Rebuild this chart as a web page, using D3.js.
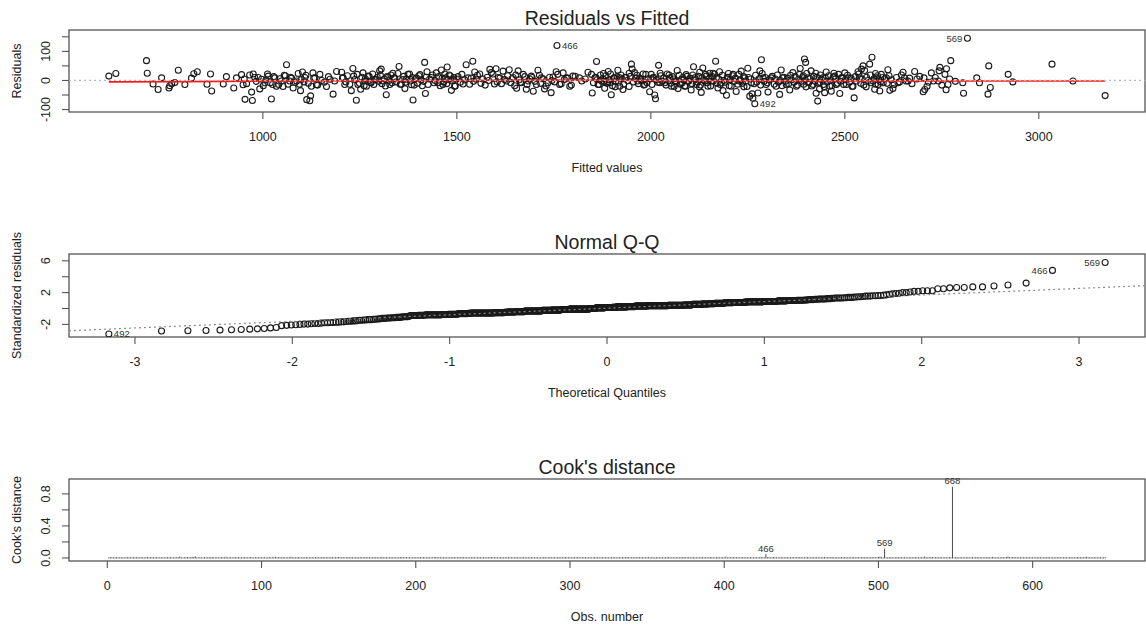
<!DOCTYPE html>
<html>
<head>
<meta charset="utf-8">
<script src="https://cdn.jsdelivr.net/npm/d3@7"></script>
<style>
  body { margin: 0; background: #fff; }
  svg text { font-family: "Liberation Sans", Arial, Helvetica, sans-serif; fill: #222; }
</style>
</head>
<body>
<div id="chart"></div>
<script>
// ---- values ----

// [fitted, residual] for every observation except the labelled ones
const residPoints = [
  [603,15],[621,24],[700,68],[702,25],[717,-12],[730,-31],[739,9],[758,-26],[760,-18],[765,-11],
  [773,-7],[782,35],[799,-14],[816,8],[822,23],[831,30],[856,-13],[865,22],[868,-36],[898,-12],
  [906,13],[925,-26],[932,9],[945,20],[949,-15],[954,-65],[971,-40],[973,-69],[975,22],[979,10],
  [992,-29],[997,4],[1005,-8],[1014,15],[1022,-64],[1025,-14],[1031,9],[1035,-20],[1048,-2],[1055,18],
  [1061,54],[1065,-13],[1074,8],[1078,-26],[1087,-2],[1097,-35],[1102,29],[1108,10],[1113,-66],[1121,-70],
  [1123,-53],[1125,-20],[1129,26],[1134,9],[1138,-15],[1164,-21],[1173,4],[1181,-47],[1190,31],
  [1203,28],[1207,9],[1211,-14],[1228,-35],[1232,41],[1234,15],[1241,-68],[1245,-14],[1252,-30],[1258,26],
  [1262,-2],[1267,-20],[1271,15],[1279,-8],[1292,4],[1301,33],[1305,39],[1310,-2],[1318,-49],[1322,10],
  [1327,-14],[1335,25],[1340,8],[1351,48],[1357,-13],[1366,-28],[1370,4],[1378,22],[1383,-15],[1387,-67],
  [1396,9],[1405,20],[1411,-18],[1417,62],[1419,-45],[1423,30],[1434,10],[1447,26],[1451,-8],[1460,36],
  [1464,-14],[1471,9],[1475,46],[1480,19],[1486,-34],[1490,4],[1494,-20],[1516,-12],[1524,54],[1529,9],
  [1541,66],[1546,29],[1550,4],[1559,22],[1585,38],[1589,27],[1597,-12],[1601,40],[1611,8],[1619,32],
  [1628,-2],[1635,37],[1645,10],[1654,-27],[1658,33],[1666,-8],[1671,21],[1679,-30],[1684,-2],[1692,15],
  [1697,-37],[1705,-14],[1709,35],[1718,9],[1726,-29],[1735,-8],[1743,-42],[1748,12],[1756,30],[1765,-14],
  [1774,26],[1782,9],[1791,-20],[1799,15],[1816,9],[1838,28],
  [1847,21],[1849,-43],[1856,9],[1860,65],[1864,-14],[1873,-2],[1881,-27],[1890,31],[1894,-8],[1898,-49],
  [1907,9],[1915,35],[1920,-20],[1928,-31],[1933,10],[1950,56],[1952,39],[1958,27],[1971,8],[1980,22],
  [1984,-14],[1997,-39],[2001,21],[2005,9],[2010,-50],[2012,-63],[2020,52],[2023,-8],[2036,-8],[2049,9],
  [2053,-20],[2062,-2],[2068,34],[2070,-28],[2079,4],[2087,-20],[2091,20],[2096,-2],[2104,-33],[2110,47],
  [2113,9],[2117,-14],[2126,28],[2130,-41],[2134,43],[2139,-2],[2143,15],[2147,-20],[2152,25],[2156,-2],
  [2167,66],[2169,9],[2173,-26],[2177,30],[2182,-8],[2186,-35],[2195,-51],[2199,9],[2207,-20],[2212,21],
  [2220,-38],[2229,-2],[2233,32],[2242,9],[2250,42],[2255,-54],[2259,-8],[2261,-46],[2263,-61],[2276,-43],
  [2281,33],[2285,71],[2289,9],[2297,-14],[2302,-40],[2310,9],[2323,-20],[2332,-48],[2336,36],[2340,9],
  [2349,-14],[2358,-33],[2366,27],[2375,-20],[2385,41],[2396,74],[2399,62],[2405,9],[2413,33],[2418,-14],
  [2426,-44],[2430,-71],[2435,-29],[2443,9],[2448,-42],[2452,29],[2461,-20],[2465,-37],[2474,15],[2478,-14],
  [2487,-45],[2491,9],[2500,26],[2504,-14],
  [2509,9],[2521,-20],[2524,-60],[2534,30],[2538,9],[2543,39],[2547,50],[2551,34],[2564,56],[2570,80],
  [2573,-2],[2577,-30],[2582,9],[2586,-14],[2590,-36],[2594,21],[2599,-8],[2607,9],[2611,37],[2616,-34],
  [2624,-28],[2637,-8],[2650,28],[2654,9],[2663,-2],[2680,31],[2702,-39],[2706,-31],[2704,9],[2712,-20],
  [2723,26],[2728,-2],[2741,-2],[2743,33],[2745,45],[2758,21],[2761,-32],[2762,40],[2766,-14],[2773,68],
  [2804,-8],[2806,-44],[2840,9],[2847,-8],[2871,50],[2875,-24],[2869,-47],[2921,21],[2933,-5],[3034,56],
  [3088,-2],[3171,-52],
  // points hidden inside the dense band around zero
  [952,5],[958,-11],[966,19],[983,-3],[988,10],[1001,-18],[1008,2],[1012,22],[1019,-8],[1028,13],
  [1041,-14],[1044,6],[1052,-21],[1058,16],[1069,-2],[1071,11],[1083,-6],[1091,24],[1094,-13],[1099,3],
  [1106,-5],[1111,18],[1117,-10],[1131,8],[1141,-16],[1147,21],[1152,0],[1158,-6],[1169,13],[1185,-2],
  [1205,8],[1214,-5],[1218,16],[1224,-13],[1237,3],[1243,21],[1249,-10],[1255,11],[1261,-18],[1264,6],
  [1270,-2],[1274,14],[1277,-6],[1283,22],[1286,-14],[1289,2],[1295,10],[1298,-3],[1303,18],[1307,-11],
  [1313,5],[1316,-19],[1320,13],[1325,0],[1330,19],[1333,-8],[1338,8],[1344,-5],[1348,24],[1354,-13],
  [1360,3],[1363,14],[1368,-6],[1374,21],[1380,-2],[1385,10],[1390,-16],[1393,6],[1399,-10],[1402,16],
  [1408,2],[1414,-3],[1421,11],[1426,-14],[1430,5],[1437,19],[1441,-8],[1444,0],[1453,13],[1457,-18],
  [1462,8],[1466,-5],[1469,22],[1474,-11],[1478,3],[1483,16],[1488,-2],[1492,10],[1496,-19],[1499,5],
  [1503,13],[1509,-6],[1513,21],[1520,2],[1533,-13],[1537,8],[1543,-3],[1553,18],[1562,-10],[1567,5],
  [1573,-16],[1578,11],[1582,0],[1593,22],[1604,-5],[1607,10],[1615,-11],[1623,3],[1631,16],[1639,-8],
  [1642,6],[1649,-18],[1652,19],[1661,2],[1664,-6],[1675,13],[1681,-14],[1688,5],[1694,10],[1701,-3],
  [1713,18],[1716,-10],[1722,6],[1730,-19],[1739,11],[1745,0],[1752,-5],[1760,21],[1769,-11],[1777,3],
  [1786,8],[1795,-16],[1805,14],[1822,-2],[1831,5],
  [1852,-8],[1858,11],[1862,3],[1867,-14],[1870,19],[1876,6],[1879,-3],[1884,16],[1887,-10],[1892,2],
  [1896,22],[1901,-18],[1904,8],[1910,-2],[1913,13],[1917,-6],[1923,19],[1926,5],[1930,-13],[1936,10],
  [1940,0],[1944,-21],[1947,14],[1955,-5],[1961,8],[1964,18],[1968,-11],[1974,3],[1977,-2],[1987,21],
  [1990,-8],[1993,6],[2003,-14],[2007,11],[2015,2],[2018,-6],[2026,16],[2030,-3],[2033,8],[2039,-16],
  [2042,22],[2045,0],[2051,-10],[2056,13],[2059,5],[2065,-5],[2073,18],[2076,-13],[2082,10],[2085,2],
  [2089,-19],[2093,14],[2098,-2],[2000,6],[1982,-16],[1944,25],[1908,-22],[1878,24],[2060,-21],[2024,25],
  [1966,-2],[1919,10],[1889,-5],[2047,19],[2081,-8],
  [2101,8],[2106,-11],[2108,19],[2115,3],[2120,-5],[2123,14],[2128,-16],[2132,10],[2136,2],[2141,21],
  [2145,-8],[2149,5],[2154,-19],[2158,13],[2161,-2],[2164,22],[2171,-10],[2175,6],[2179,-14],[2184,18],
  [2188,0],[2191,-6],[2197,11],[2202,-18],[2205,3],[2210,16],[2215,-3],[2218,8],[2224,-13],[2227,21],
  [2231,2],[2236,-10],[2239,13],[2245,-2],[2248,-21],[2252,10],[2257,5],[2266,-11],[2270,18],[2273,-5],
  [2279,6],[2283,-16],[2287,24],[2292,-3],[2295,10],[2300,-8],[2305,2],[2313,14],[2318,-13],[2321,5],
  [2326,19],[2329,-6],[2334,0],[2338,-18],[2343,11],[2347,-3],[2125,-22],[2160,25],[2200,24],[2240,-22],
  [2352,8],[2355,-11],[2360,18],[2363,2],[2369,-6],[2372,13],[2378,-16],[2381,5],[2383,21],[2388,-3],
  [2391,10],[2394,-13],[2398,2],[2402,24],[2407,-8],[2410,6],[2415,-19],[2420,14],[2423,-2],[2428,11],
  [2432,-10],[2437,19],[2440,3],[2445,-14],[2450,8],[2455,-5],[2458,16],[2463,0],[2467,-18],[2470,11],
  [2476,5],[2481,-10],[2484,21],[2489,-3],[2493,10],[2497,-14],[2502,3],[2507,18],[2512,-6],[2516,8],
  [2519,-21],[2527,13],[2530,-2],[2536,22],[2541,-10],[2545,5],[2549,-16],[2556,11],[2560,0],[2566,19],
  [2568,-8],[2575,6],[2579,-13],[2584,16],[2588,2],[2592,-5],[2597,10],[2400,-22],[2425,25],[2447,-22],
  [2472,25],[2393,16],[2436,-6],[2579,24],[2555,-22],
  [2603,6],[2609,-10],[2614,16],[2620,2],[2627,-14],[2633,10],[2641,-5],[2646,19],[2658,-2],[2667,8],
  [2673,-11],[2686,5],[2693,14],[2715,-6],[2733,10],[2750,-16],[2770,5],[2785,-3]
]

// labelled observations: [row name, fitted, residual]
const labelledPoints = [["466", 1758, 120], ["569", 2816, 145], ["492", 2268, -80]]

// red smoother drawn through the residuals
const smoothFitted = [603, 800, 1000, 1250, 1500, 1750, 2000, 2250, 2500, 2750, 3000, 3171]
const smoothResid = [-5, -4, -2, -1, 0, 1, 0, -1, -2, -2, -2, -2]

// residual standard error used for the standardized residuals
const residSE = 25

// Cook's distance per observation, in thousandths (observation order)
const cookBase = [
  2,1,3,1,2,4,1,2,3,1,2,1,5,2,1,3,2,1,4,2,
  1,3,2,1,2,6,1,2,3,1,2,4,1,1,3,2,1,2,5,1,
  3,2,1,2,4,3,12,2,1,3,2,5,2,1,9,3,14,2,1,3,
  2,1,4,2,1,3,2,6,1,2,3,1,2,4,3,2,8,1,2,3,
  1,2,5,1,3,2,1,4,2,3,1,2,6,1,2,3,1,2,4,1,
  2,3,1,2,5,1,3,2,7,1,2,3,1,4,2,1,3,2,8,1,
  3,1,2,4,1,2,3,1,5,2,1,3,2,1,4,2,3,1,2,5,
  1,2,3,1,4,2,1,3,2,6,1,2,3,1,2,4,1,3,2,1,
  2,4,1,3,2,1,5,2,3,1,2,1,4,2,3,1,2,6,1,2,
  3,1,2,4,1,2,3,1,2,5,3,1,2,4,1,3,2,1,2,3,
  1,2,5,1,3,2,1,4,2,1,3,2,6,1,2,3,1,2,4,2,
  2,1,3,2,4,1,2,3,1,5,2,1,3,2,1,4,2,3,1,2,
  3,2,1,4,2,1,3,2,5,1,2,3,1,2,4,1,3,2,1,6,
  1,3,2,1,4,2,3,1,2,5,1,2,3,1,4,2,1,3,2,1,
  2,1,4,3,1,2,5,1,3,2,1,2,4,1,3,2,6,1,2,3,
  1,2,3,1,5,2,1,3,2,4,1,2,3,1,2,5,1,3,2,1,
  4,2,1,3,2,1,5,2,3,1,2,4,1,2,3,1,6,2,1,3,
  2,1,3,2,4,1,2,3,1,2,5,1,3,2,1,4,2,1,3,2,
  1,3,2,5,1,2,3,1,4,2,1,3,2,6,1,2,3,1,2,4,
  2,1,3,1,2,4,1,3,2,1,5,2,1,3,2,4,1,2,3,1,
  9,2,1,3,2,4,1,2,3,1,2,5,1,3,2,1,4,2,1,3,
  2,1,3,5,2,1,4,2,3,1,2,6,1,3,2,1,4,2,1,3,
  2,3,1,4,2,1,3,2,5,1,2,3,1,4,2,1,3,2,1,4,
  1,2,3,1,5,2,1,3,2,4,1,2,3,1,2,5,1,3,2,1,
  3,1,2,4,1,2,3,1,2,5,1,3,2,1,4,2,3,1,2,6,
  10,2,1,3,2,1,4,2,3,1,2,5,1,3,2,1,4,2,1,3,
  2,1,3,2,4,1,2,3,1,12,2,1,3,2,5,1,2,3,1,4,
  2,1,3,2,1,5,2,3,1,2,4,1,3,2,1,3,2,4,1,2,
  3,1,2,5,1,3,2,1,4,2,3,1,2,6,1,2,3,1,2,4,
  1,2,3,11,2,1,4,2,3,1,2,5,1,3,2,1,4,2,1,3,
  2,1,3,2,4,1,2,3,1,5,2,1,3,2,1,4,2,3,1,2,
  3,2,1,4,2,1,3,2,5,1,2,3,1,4,9,1,3,2,1,4,
  2,1,3,2,1,2,3
]
// the three largest distances: [obs number, distance, row name]
const cookPeaks = [[427, 0.040, "466"], [504, 0.110, "569"], [548, 0.882, "668"]]

// tick values and labels
const fitTicks = [1000, 1500, 2000, 2500, 3000]
const residTicks = [-100, -50, 0, 50, 100, 150]
const residTickLabels = [-100, 0, 100]
const qqXTicks = [-3, -2, -1, 0, 1, 2, 3]
const qqYTicks = [-2, 0, 2, 4, 6]
const qqYTickLabels = [-2, 2, 6]
const obsTicks = [0, 100, 200, 300, 400, 500, 600]
const cookTicks = [0, 0.2, 0.4, 0.6, 0.8]
const cookTickLabels = [0, 0.4, 0.8]

// ---- layout ----
const W = 1146, H = 626
const left = 69, right = 1145
const midX = (left + right) / 2

// R pads axis ranges by 4% on each side
function extendRange(lo, hi, f) {
    let d = (hi - lo) * f
    return [lo - d, hi + d]
}

// inverse normal cdf (Acklam)
function qnorm(p) {
    const a = [-3.969683028665376e+01, 2.209460984245205e+02, -2.759285104469687e+02, 1.383577518672690e+02, -3.066479806614716e+01, 2.506628277459239e+00]
    const b = [-5.447609879822406e+01, 1.615858368580409e+02, -1.556989798598866e+02, 6.680131188771972e+01, -1.328068155288572e+01]
    const c = [-7.784894002430293e-03, -3.223964580411365e-01, -2.400758277161838e+00, -2.549732539343734e+00, 4.374664141464968e+00, 2.938163982698783e+00]
    const d = [7.784695709041462e-03, 3.224671290700398e-01, 2.445134137142996e+00, 3.754408661907416e+00]
    const plow = 0.02425
    let q, r
    if (p < plow || p > 1 - plow) {
        q = Math.sqrt(-2 * Math.log(p < plow ? p : 1 - p))
        let v = (((((c[0]*q+c[1])*q+c[2])*q+c[3])*q+c[4])*q+c[5]) / ((((d[0]*q+d[1])*q+d[2])*q+d[3])*q+1)
        return p < plow ? v : -v
    }
    q = p - 0.5
    r = q * q
    return (((((a[0]*r+a[1])*r+a[2])*r+a[3])*r+a[4])*r+a[5])*q / (((((b[0]*r+b[1])*r+b[2])*r+b[3])*r+b[4])*r+1)
}

const svg = d3.select("#chart").append("svg")
    .attr("width", W)
    .attr("height", H)

// frame, ticks and titles for one panel
function drawFrame(p) {
    let g = svg.append("g")

    g.selectAll(".xtick").data(p.xTicks).enter().append("line")
        .attr("x1", d => p.x(d)).attr("x2", d => p.x(d))
        .attr("y1", p.bottom).attr("y2", p.bottom + 7)
        .attr("stroke", "#555").attr("stroke-width", 1.1)
    g.selectAll(".xlab").data(p.xTicks).enter().append("text")
        .attr("x", d => p.x(d)).attr("y", p.bottom + 29)
        .attr("text-anchor", "middle")
        .style("font-size", "12.5px")
        .text(d => String(d))

    g.selectAll(".ytick").data(p.yTicks).enter().append("line")
        .attr("x1", left - 7).attr("x2", left)
        .attr("y1", d => p.y(d)).attr("y2", d => p.y(d))
        .attr("stroke", "#555").attr("stroke-width", 1.1)
    g.selectAll(".ylab").data(p.yLabels).enter().append("text")
        .attr("transform", d => `translate(${left - 19},${p.y(d)}) rotate(-90)`)
        .attr("text-anchor", "middle")
        .style("font-size", "12.5px")
        .text(p.yFormat)

    g.append("rect")
        .attr("x", left).attr("y", p.top)
        .attr("width", right - left).attr("height", p.bottom - p.top)
        .attr("fill", "none").attr("stroke", "#555").attr("stroke-width", 1.3)

    g.append("text")
        .attr("x", midX).attr("y", p.top - 5)
        .attr("text-anchor", "middle")
        .style("font-size", "19.5px")
        .text(p.title)
    g.append("text")
        .attr("x", midX).attr("y", p.bottom + 60)
        .attr("text-anchor", "middle")
        .style("font-size", "12.5px")
        .text(p.xLabel)
    g.append("text")
        .attr("transform", `translate(21,${(p.top + p.bottom) / 2}) rotate(-90)`)
        .attr("text-anchor", "middle")
        .style("font-size", "12.5px")
        .text(p.yLabel)

    // marks are clipped to the plot box, as in R
    let clipId = "clip" + p.top
    svg.append("clipPath").attr("id", clipId)
        .append("rect")
        .attr("x", left).attr("y", p.top)
        .attr("width", right - left).attr("height", p.bottom - p.top)
    return svg.append("g").attr("clip-path", `url(#${clipId})`)
}

// text.id rule: label right of a point left of the middle, else left of it
function labelSide(xs) {
    let mid = (d3.min(xs) + d3.max(xs)) / 2
    return x => x > mid ? "left" : "right"
}

function drawLabels(g, pts, x, y) {
    let side = labelSide(pts.map(d => x(d.px)))
    g.selectAll(".idlab").data(pts).enter().append("text")
        .attr("x", d => x(d.px) + (side(x(d.px)) === "left" ? -5 : 5))
        .attr("y", d => y(d.py))
        .attr("dy", "0.35em")
        .attr("text-anchor", d => side(x(d.px)) === "left" ? "end" : "start")
        .style("font-size", "9.5px")
        .style("fill", "#333")
        .text(d => d.id)
}

// ---- data wrangling ----
const allPts = residPoints.map(p => ({f: p[0], r: p[1], id: null}))
    .concat(labelledPoints.map(p => ({f: p[1], r: p[2], id: p[0]})))
const n = allPts.length

// ---- panel 1: residuals vs fitted ----
{
    let top = 30, bottom = 112
    let rRange = extendRange(d3.min(allPts, d => d.r), d3.max(allPts, d => d.r), 0.08)
    let x = d3.scaleLinear().domain(extendRange(...d3.extent(allPts, d => d.f), 0.04)).range([left, right])
    let y = d3.scaleLinear().domain(extendRange(rRange[0], rRange[1], 0.04)).range([bottom, top])

    let g = drawFrame({top, bottom, x, y, xTicks: fitTicks, yTicks: residTicks, yLabels: residTickLabels,
        yFormat: d => String(d), title: "Residuals vs Fitted", xLabel: "Fitted values", yLabel: "Residuals"})

    g.selectAll("circle").data(allPts).enter().append("circle")
        .attr("cx", d => x(d.f)).attr("cy", d => y(d.r)).attr("r", 3)
        .attr("fill", "none").attr("stroke", "#1a1a1a").attr("stroke-width", 1.1)

    g.append("path")
        .datum(d3.zip(smoothFitted, smoothResid))
        .attr("d", d3.line().x(d => x(d[0])).y(d => y(d[1])))
        .attr("fill", "none").attr("stroke", "#ff1a1a").attr("stroke-width", 1.6)

    g.append("line")
        .attr("x1", left).attr("x2", right)
        .attr("y1", y(0)).attr("y2", y(0))
        .attr("stroke", "#b8b8b8").attr("stroke-width", 1.2).attr("stroke-dasharray", "2,3")

    drawLabels(svg, allPts.filter(d => d.id).map(d => ({id: d.id, px: d.f, py: d.r})), x, y)
}

// ---- panel 2: normal Q-Q ----
{
    let top = 254, bottom = 337
    let qq = allPts.map(d => ({id: d.id, s: d.r / residSE})).sort((a, b) => a.s - b.s)
    qq.forEach((d, i) => { d.q = qnorm((i + 0.5) / n) })

    let sMin = qq[0].s, sMax = qq[n - 1].s
    let yLim = [sMin, sMax + (sMax - sMin) * 0.075]
    let x = d3.scaleLinear().domain(extendRange(qq[0].q, qq[n - 1].q, 0.04)).range([left, right])
    let y = d3.scaleLinear().domain(extendRange(yLim[0], yLim[1], 0.04)).range([bottom, top])

    let g = drawFrame({top, bottom, x, y, xTicks: qqXTicks, yTicks: qqYTicks, yLabels: qqYTickLabels,
        yFormat: d => String(d), title: "Normal Q-Q", xLabel: "Theoretical Quantiles", yLabel: "Standardized residuals"})

    // qqline through the quartiles
    let sv = qq.map(d => d.s)
    let y1 = d3.quantileSorted(sv, 0.25), y3 = d3.quantileSorted(sv, 0.75)
    let x1 = qnorm(0.25), x3 = qnorm(0.75)
    let slope = (y3 - y1) / (x3 - x1), icpt = y1 - slope * x1
    let xd = x.domain()

    g.selectAll("circle").data(qq).enter().append("circle")
        .attr("cx", d => x(d.q)).attr("cy", d => y(d.s)).attr("r", 3)
        .attr("fill", "none").attr("stroke", "#1a1a1a").attr("stroke-width", 1.1)

    g.append("line")
        .attr("x1", x(xd[0])).attr("x2", x(xd[1]))
        .attr("y1", y(icpt + slope * xd[0])).attr("y2", y(icpt + slope * xd[1]))
        .attr("stroke", "#8a8a8a").attr("stroke-width", 1.2).attr("stroke-dasharray", "2,3")

    drawLabels(svg, qq.filter(d => d.id).map(d => ({id: d.id, px: d.q, py: d.s})), x, y)
}

// ---- panel 3: Cook's distance ----
{
    let top = 479, bottom = 561
    let cooks = cookBase.map((v, i) => ({obs: i + 1, d: v / 1000, id: null}))
    cookPeaks.forEach(p => { cooks[p[0] - 1].d = p[1]; cooks[p[0] - 1].id = p[2] })
    let nObs = cooks.length
    let dMax = d3.max(cooks, d => d.d)

    let x = d3.scaleLinear().domain(extendRange(1, nObs, 0.04)).range([left, right])
    let y = d3.scaleLinear().domain(extendRange(0, dMax * 1.075, 0.04)).range([bottom, top])

    let g = drawFrame({top, bottom, x, y, xTicks: obsTicks, yTicks: cookTicks, yLabels: cookTickLabels,
        yFormat: d3.format(".1f"), title: "Cook's distance", xLabel: "Obs. number", yLabel: "Cook's distance"})

    g.selectAll(".bar").data(cooks).enter().append("line")
        .attr("x1", d => x(d.obs)).attr("x2", d => x(d.obs))
        .attr("y1", y(0)).attr("y2", d => y(d.d))
        .attr("stroke", "#333").attr("stroke-width", 0.9)
        .attr("stroke-linecap", "square")

    svg.selectAll(".cooklab").data(cooks.filter(d => d.id)).enter().append("text")
        .attr("x", d => x(d.obs)).attr("y", d => y(d.d) - 3)
        .attr("text-anchor", "middle")
        .style("font-size", "9.5px")
        .style("fill", "#333")
        .text(d => d.id)
}
</script>
</body>
</html>
